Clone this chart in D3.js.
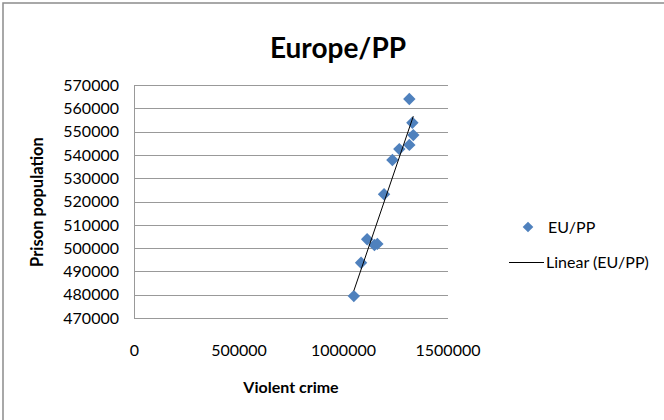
<!DOCTYPE html>
<html>
<head>
<meta charset="utf-8">
<script src="https://cdn.jsdelivr.net/npm/d3@7"></script>
<style>
  html, body { margin: 0; padding: 0; background: #fff; }
  svg { display: block; }
  text { font-family: Lato, "Open Sans", sans-serif; fill: #000; }
</style>
</head>
<body>
<svg id="chart" width="664" height="420"></svg>
<script>
// ---- data ----
const violentCrime = [1315000, 1329500, 1334000, 1315000, 1267000, 1234000, 1194000, 1113000, 1148000, 1162000, 1084000, 1049500];
const prisonPop    = [564000, 553800, 548500, 544300, 542500, 537800, 523100, 503800, 501300, 501800, 493700, 479400];
const xTicks = [0, 500000, 1000000, 1500000];
const yTicks = [470000, 480000, 490000, 500000, 510000, 520000, 530000, 540000, 550000, 560000, 570000];
const chartTitle = "Europe/PP";
const xTitle = "Violent crime";
const yTitle = "Prison population";
const seriesName = "EU/PP";
const trendName = "Linear (EU/PP)";

const svg = d3.select("#chart");
const color = "#4F81BD";

// outer frame
svg.append("rect").attr("x", 3).attr("y", 3).attr("width", 720).attr("height", 500)
  .attr("fill", "none").attr("stroke", "#8c8c8c").attr("stroke-width", 1.5);

const x = d3.scaleLinear().domain([0, 1500000]).range([134.5, 448]);
const y = d3.scaleLinear().domain([470000, 570000]).range([318, 85]);

// gridlines
svg.append("g").selectAll("line").data(yTicks).join("line")
  .attr("x1", x(0)).attr("x2", x(1500000))
  .attr("y1", d => Math.round(y(d)) + 0.5).attr("y2", d => Math.round(y(d)) + 0.5)
  .attr("stroke", "#999").attr("stroke-width", 1);

// y axis line
svg.append("line").attr("x1", 134.5).attr("x2", 134.5).attr("y1", y(570000)).attr("y2", y(470000) + 1)
  .attr("stroke", "#999").attr("stroke-width", 1);

// y tick labels
svg.append("g").selectAll("text").data(yTicks).join("text")
  .attr("x", 119).attr("y", d => y(d)).attr("dy", "0.36em")
  .attr("text-anchor", "end").style("font-size", "16px")
  .text(d => d);

// x tick labels
svg.append("g").selectAll("text").data(xTicks).join("text")
  .attr("x", d => x(d)).attr("y", 356)
  .attr("text-anchor", "middle").style("font-size", "16px")
  .text(d => d);

// titles
svg.append("text").attr("x", 338).attr("y", 58).attr("text-anchor", "middle")
  .style("font-size", "28px").style("font-weight", "bold").text(chartTitle);
svg.append("text").attr("x", 291).attr("y", 393).attr("text-anchor", "middle")
  .style("font-size", "16px").style("font-weight", "bold").text(xTitle);
svg.append("text").attr("transform", "translate(43,202) rotate(-90)").attr("text-anchor", "middle")
  .style("font-size", "16.5px").style("font-weight", "bold").text(yTitle);

// points
const pts = violentCrime.map((v, i) => ({ x: v, y: prisonPop[i] }));
const diamond = d3.symbol().type(d3.symbolDiamond2).size(98);
svg.append("g").selectAll("path").data(pts).join("path")
  .attr("transform", d => `translate(${x(d.x)},${y(d.y)})`)
  .attr("d", diamond).attr("fill", color);

// linear trend (least squares)
const mx = d3.mean(violentCrime), my = d3.mean(prisonPop);
const slope = d3.sum(pts, d => (d.x - mx) * (d.y - my)) / d3.sum(pts, d => (d.x - mx) ** 2);
const icpt = my - slope * mx;
const [x0, x1] = d3.extent(violentCrime);
svg.append("line")
  .attr("x1", x(x0)).attr("y1", y(icpt + slope * x0))
  .attr("x2", x(x1)).attr("y2", y(icpt + slope * x1))
  .attr("stroke", "#000").attr("stroke-width", 1);

// legend
svg.append("path").attr("transform", "translate(528,227)").attr("d", d3.symbol().type(d3.symbolDiamond2).size(72)).attr("fill", color);
svg.append("text").attr("x", 548).attr("y", 227).attr("dy", "0.36em").style("font-size", "16px").text(seriesName);
svg.append("line").attr("x1", 509).attr("x2", 544).attr("y1", 262.5).attr("y2", 262.5).attr("stroke", "#000").attr("stroke-width", 1);
svg.append("text").attr("x", 546).attr("y", 262).attr("dy", "0.36em").style("font-size", "16px").text(trendName);
</script>
</body>
</html>
